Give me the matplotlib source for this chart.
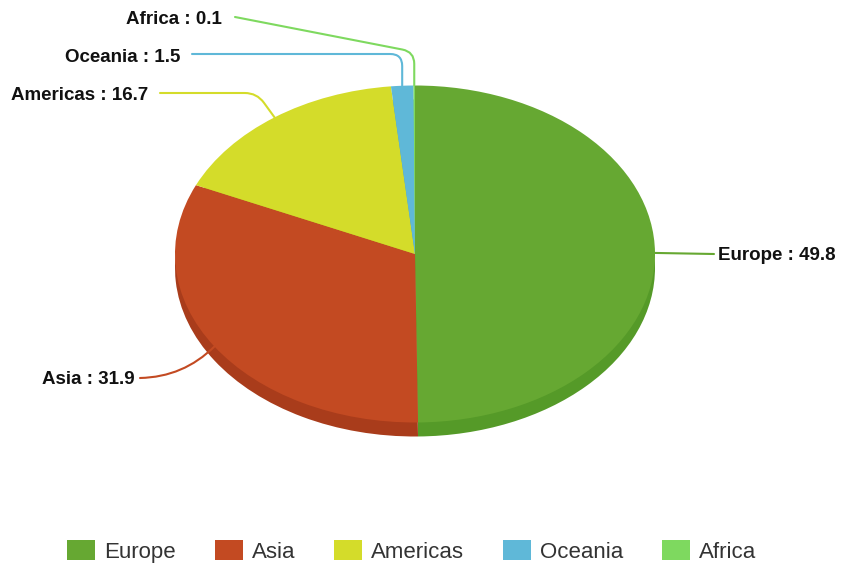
import matplotlib
matplotlib.use('Agg')
import matplotlib.pyplot as plt
from matplotlib.patches import Patch
import numpy as np

# data
regions = ['Europe', 'Asia', 'Americas', 'Oceania', 'Africa']
shares = [49.8, 31.9, 16.7, 1.5, 0.1]
colors = ['#66a832', '#c34a22', '#d4dc2a', '#5fb8d8', '#7ed95f']
side_colors = ['#559a28', '#a93c1b', '#b8c022', '#4aa0c0', '#6cc04e']

W, H = 858, 567
CX, CY, RX, RY = 415, 254, 240, 168.5
DEPTH = 14


def px(x, y):
    # pixel position -> data coords
    return (x - CX) / RX, (CY - y) / RY


fig = plt.figure(figsize=(W / 100, H / 100), dpi=100)
ax = fig.add_axes([0, 0, 1, 1])

# side of the 3d pie, then the top face
ax.pie(shares, colors=side_colors, startangle=90, counterclock=False,
       center=(0, -DEPTH / RY), wedgeprops=dict(linewidth=0))
ax.pie(shares, colors=colors, startangle=90, counterclock=False,
       wedgeprops=dict(linewidth=0))

ax.set_aspect('auto')
ax.set_xlim(-CX / RX, (W - CX) / RX)
ax.set_ylim((CY - H) / RY, CY / RY)
ax.axis('off')

# labels: text anchor, line start, connection style
label_pos = {
    'Africa': ((222, 20), 'right', (235, 17), 'angle,angleA=-11,angleB=90,rad=12'),
    'Oceania': ((180, 57), 'right', (192, 54), 'angle,angleA=0,angleB=90,rad=12'),
    'Americas': ((148, 96), 'right', (160, 93), 'angle,angleA=0,angleB=126,rad=12'),
    'Europe': ((718, 256), 'left', (714, 254), 'arc3,rad=0'),
    'Asia': ((135, 380), 'right', (140, 378), 'arc3,rad=0.2'),
}

start = 90.0
total = sum(shares)
for name, val, col in zip(regions, shares, colors):
    span = val / total * 360
    mid = np.deg2rad(start - span / 2)
    start -= span
    (tx, ty), ha, (lx, ly), cs = label_pos[name]
    ax.text(*px(tx, ty), f'{name} : {val}', ha=ha, va='center',
            fontsize=13.5, fontweight='bold', family='Liberation Sans', color='#111111')
    ax.annotate('', xy=(np.cos(mid), np.sin(mid)), xytext=px(lx, ly),
                arrowprops=dict(arrowstyle='-', color=col, lw=1.5,
                                connectionstyle=cs, shrinkA=0, shrinkB=0))

handles = [Patch(facecolor=c, edgecolor='none', label=r) for r, c in zip(regions, colors)]
fig.legend(handles=handles, loc='center', bbox_to_anchor=(0.48, 0.027), ncol=5,
           frameon=False,
           prop={'family': 'Liberation Sans', 'size': 16},
           handlelength=1.26, handleheight=1.0, handletextpad=0.4,
           columnspacing=1.76, labelcolor='#333333')

fig.savefig('out.png', dpi=100)
